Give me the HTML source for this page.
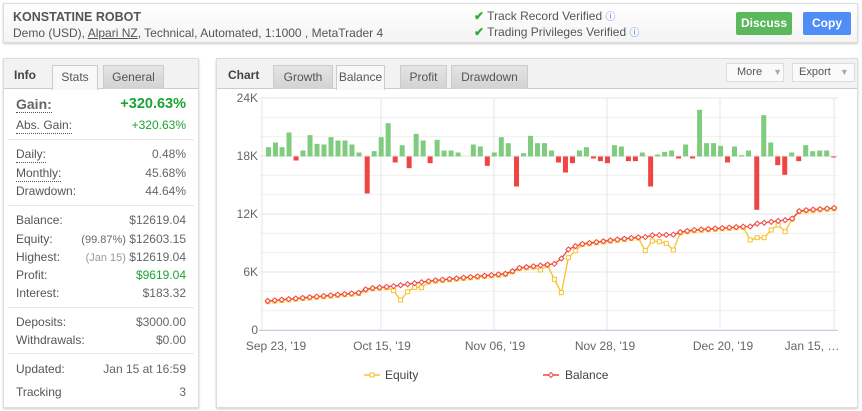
<!DOCTYPE html>
<html><head><meta charset="utf-8"><style>
*{box-sizing:border-box}
body{margin:0;width:862px;height:411px;background:#fff;font-family:"Liberation Sans",Tahoma,sans-serif;font-size:12px;color:#555;position:relative;overflow:hidden}
.a{position:absolute}
.box{position:absolute;border:1px solid #ddd;background:#fff;box-shadow:0 1px 2px #ccc}
.tab{position:absolute;top:6px;height:24px;border:1px solid #ccc;border-bottom:none;background:linear-gradient(#e4e4e4,#d2d2d2);text-align:center;line-height:22px;color:#555;font-size:12px}
.tab.on{background:#f8f8f8;height:25px}
.row{position:absolute;left:12px;right:12px;height:16px;line-height:16px}
.row .l{float:left}.row .r{float:right;color:#666}
.dot{border-bottom:1px dotted #555}
.sep{position:absolute;left:4px;right:4px;height:1px;background:#e6e6e6}
.g{color:#1aa531!important}
.s{color:#999;font-size:11px}
</style></head><body>
<div class="box" style="left:3px;top:3px;width:855px;height:40px;background:linear-gradient(#fff,#f4f4f4)">
<div class="a" style="left:9px;top:6px;font-weight:bold;color:#555;font-size:12.5px">KONSTATINE ROBOT</div>
<div class="a" style="left:9px;top:22px;font-size:12px;color:#555">Demo (USD), <u>Alpari NZ</u>, Technical, Automated, 1:1000 , MetaTrader 4</div>
<div class="a" style="left:470px;top:4px;font-size:12px"><span style="color:#3a3;font-weight:bold">✔</span> Track Record Verified <span style="color:#4a7ee0;font-size:10px">ⓘ</span></div>
<div class="a" style="left:470px;top:20px;font-size:12px"><span style="color:#3a3;font-weight:bold">✔</span> Trading Privileges Verified <span style="color:#4a7ee0;font-size:10px">ⓘ</span></div>
<div class="a" style="left:732px;top:8px;width:56px;height:23px;background:#5cb85c;border-radius:2px;color:#fff;font-weight:bold;text-align:center;line-height:23px">Discuss</div>
<div class="a" style="left:799px;top:8px;width:48px;height:23px;background:#4f8ef7;border-radius:2px;color:#fff;font-weight:bold;text-align:center;line-height:23px">Copy</div>
</div>

<div class="box" style="left:3px;top:58px;width:196px;height:350px">
<div class="a" style="left:0;top:0;width:194px;height:30px;background:#f2f2f2;border-bottom:1px solid #ccc"></div>
<div class="a" style="left:10px;top:9px;font-weight:bold;color:#444">Info</div>
<div class="tab on" style="left:48px;width:46px">Stats</div>
<div class="tab" style="left:99px;width:61px">General</div>
<div class="row" style="top:37px;font-size:14px;font-weight:bold;height:18px"><span class="l dot" style="color:#666">Gain:</span><span class="r g" style="font-size:14.5px">+320.63%</span></div>
<div class="row" style="top:58px"><span class="l dot">Abs. Gain:</span><span class="r g">+320.63%</span></div>
<div class="sep" style="top:80px"></div>
<div class="row" style="top:87px"><span class="l dot">Daily:</span><span class="r">0.48%</span></div>
<div class="row" style="top:106px"><span class="l dot">Monthly:</span><span class="r">45.68%</span></div>
<div class="row" style="top:124px"><span class="l">Drawdown:</span><span class="r">44.64%</span></div>
<div class="sep" style="top:146px"></div>
<div class="row" style="top:153px"><span class="l">Balance:</span><span class="r">$12619.04</span></div>
<div class="row" style="top:172px"><span class="l">Equity:</span><span class="r"><span style="font-size:11px">(99.87%)</span> $12603.15</span></div>
<div class="row" style="top:190px"><span class="l">Highest:</span><span class="r"><span class="s">(Jan 15)</span> $12619.04</span></div>
<div class="row" style="top:208px"><span class="l">Profit:</span><span class="r g">$9619.04</span></div>
<div class="row" style="top:226px"><span class="l">Interest:</span><span class="r">$183.32</span></div>
<div class="sep" style="top:248px"></div>
<div class="row" style="top:255px"><span class="l">Deposits:</span><span class="r">$3000.00</span></div>
<div class="row" style="top:273px"><span class="l">Withdrawals:</span><span class="r">$0.00</span></div>
<div class="sep" style="top:294px"></div>
<div class="row" style="top:302px"><span class="l">Updated:</span><span class="r">Jan 15 at 16:59</span></div>
<div class="row" style="top:325px"><span class="l">Tracking</span><span class="r">3</span></div>
</div>

<div class="box" style="left:216px;top:58px;width:642px;height:350px">
<div class="a" style="left:0;top:0;width:640px;height:30px;background:#f2f2f2;border-bottom:1px solid #ccc"></div>
<div class="a" style="left:11px;top:9px;font-weight:bold;color:#444">Chart</div>
<div class="tab" style="left:56px;width:60px">Growth</div>
<div class="tab on" style="left:119px;width:49px">Balance</div>
<div class="tab" style="left:183px;width:47px">Profit</div>
<div class="tab" style="left:234px;width:77px">Drawdown</div>
<div class="a" style="left:509px;top:4px;width:58px;height:19px;border:1px solid #ddd;background:#fafafa;line-height:17px;padding-left:10px;font-size:11px">More <span style="color:#aaa;font-size:9px;margin-left:8px">▼</span></div>
<div class="a" style="left:575px;top:4px;width:63px;height:19px;border:1px solid #ddd;background:#fafafa;line-height:17px;padding-left:6px;font-size:11px">Export <span style="color:#aaa;font-size:9px;margin-left:6px">▼</span></div>
</div>
<svg id="ch" class="a" style="left:0;top:0" width="862" height="411"></svg>
<script>
var s='';
var F2=2.431,F3=2.45;
function X(z){return 220+z/F3}
for(var i=0;i<=12;i++){var y=98+i*19.33;s+='<line x1="259" x2="838" y1="'+y+'" y2="'+y+'" stroke="'+(i%3==0?'#e4e4e4':'#f0f0f0')+'"/>';}
[262,381,494,607,720,834].forEach(function(x){s+='<line x1="'+x+'" x2="'+x+'" y1="98" y2="330" stroke="#e6e6e6"/>'});
s+='<line x1="259" x2="838" y1="330.5" y2="330.5" stroke="#c0d0e8"/>';
[['24K',102],['18K',160],['12K',218],['6K',276],['0',334]].forEach(function(t){s+='<text x="258" y="'+t[1]+'" text-anchor="end" font-size="12" fill="#666" font-family="Liberation Sans">'+t[0]+'</text>'});
[['Sep 23, \'19',276],['Oct 15, \'19',382],['Nov 06, \'19',495],['Nov 28, \'19',605],['Dec 20, \'19',723],['Jan 15, …',812]].forEach(function(t){s+='<text x="'+t[1]+'" y="350" text-anchor="middle" font-size="12" fill="#666" font-family="Liberation Sans">'+t[0]+'</text>'});
var b=[[130,28],[147,42],[163,28],[180,72],[197,-12],[214,18],[231,64],[248,38],[265,36],[282,58],[299,48],[316,48],[333,36],[350,12],[370,-111],[387,16],[404,58],[421,100],[438,-18],[455,34],[472,-35],[489,68],[506,48],[523,-20],[540,50],[557,18],[574,18],[591,12],[628,36],[645,30],[662,-28],[679,12],[696,58],[713,40],[733,-90],[750,10],[767,62],[784,40],[801,40],[818,18],[835,-18],[852,-48],[869,-20],[886,18],[903,28],[920,-6],[937,-14],[954,-20],[971,34],[988,30],[1005,-14],[1022,-14],[1039,12],[1059,-90],[1076,6],[1093,14],[1110,18],[1127,-6],[1144,36],[1161,-6],[1178,140],[1195,40],[1212,40],[1229,32],[1246,-18],[1263,30],[1280,4],[1297,18],[1317,-160],[1334,124],[1351,42],[1368,-26],[1385,-55],[1402,12],[1419,-14],[1436,34],[1453,16],[1470,18],[1487,18],[1504,-3]];
b.forEach(function(p){var h=p[1]/3,x=215+p[0]/F2-2.5;var y=h>0?156.5-h:156.5;s+='<rect x="'+x+'" y="'+y+'" width="5" height="'+Math.max(Math.abs(h),1)+'" fill="'+(h>0?'#7fcc7f':'#f04545')+'"/>'});
function interp(k,z){for(var i=0;i<k.length-1;i++){if(z>=k[i][0]&&z<=k[i+1][0]){var t=(z-k[i][0])/(k[i+1][0]-k[i][0]);return k[i][1]+t*(k[i+1][1]-k[i][1]);}}return k[k.length-1][1];}
var bk=[[117,363],[343,338],[360,326],[430,318],[520,302],[650,287],[710,280],[725,265],[830,250],[847,212],[880,193],[950,182],[1020,172],[1040,172],[1055,166],[1110,164],[1125,157],[1160,150],[1280,140],[1298,140],[1315,131],[1400,118],[1420,92],[1505,84]];
var dips=[[430,332],[447,360],[464,335],[481,322],[498,323],[708,302],[793,270],[812,298],[829,338],[846,233],[863,212],[1038,212],[1055,183],[1072,185],[1089,190],[1106,210],[1298,180],[1315,173],[1332,173],[1349,150],[1366,135],[1383,155]];
var bp=[],ep=[];
for(var z=117;z<=1506;z+=17.13){var by=interp(bk,z);var ey=by+2;dips.forEach(function(d){if(Math.abs(d[0]-z)<8.5)ey=d[1];});bp.push([X(z),180+by/3]);ep.push([X(z),180+ey/3]);}
function pl(a,c){return '<polyline fill="none" stroke="'+c+'" stroke-width="1.3" points="'+a.map(function(p){return p[0].toFixed(1)+','+p[1].toFixed(1)}).join(' ')+'"/>'}
s+=pl(ep,'#f7c22c');
ep.forEach(function(p){s+='<rect x="'+(p[0]-2)+'" y="'+(p[1]-2)+'" width="4" height="4" fill="#fff" stroke="#f7c22c" stroke-width="1"/>'});
s+=pl(bp,'#f04545');
bp.forEach(function(p){s+='<path d="M'+p[0]+' '+(p[1]-2.5)+'l2.5 2.5-2.5 2.5-2.5-2.5z" fill="#fff" stroke="#f04545" stroke-width="1"/>'});
s+='<line x1="364" x2="380" y1="375" y2="375" stroke="#f7c22c" stroke-width="1.5"/><rect x="370" y="373" width="4" height="4" fill="#fff" stroke="#f7c22c"/><text x="385" y="379" font-size="12" fill="#444" font-family="Liberation Sans">Equity</text>';
s+='<line x1="543" x2="559" y1="375" y2="375" stroke="#f04545" stroke-width="1.5"/><path d="M551 372.5l2.5 2.5-2.5 2.5-2.5-2.5z" fill="#fff" stroke="#f04545"/><text x="565" y="379" font-size="12" fill="#444" font-family="Liberation Sans">Balance</text>';
document.getElementById('ch').innerHTML=s;
</script>
</body></html>
